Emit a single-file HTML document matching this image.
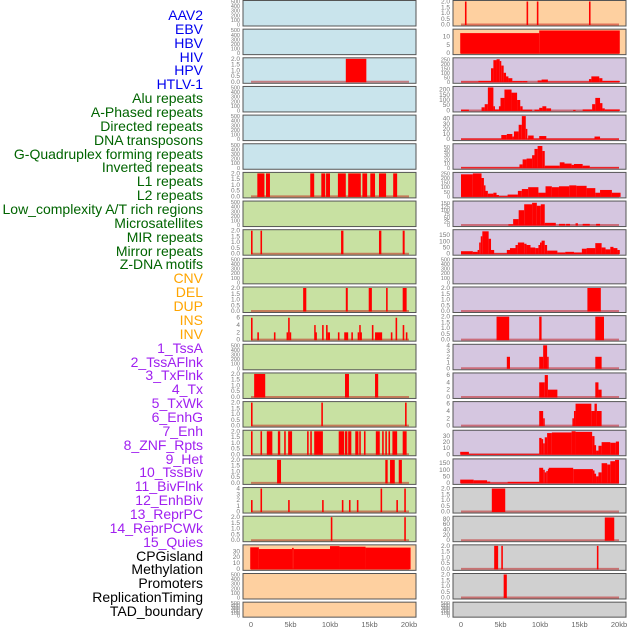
<!DOCTYPE html>
<html><head><meta charset="utf-8"><style>
body{margin:0;background:#fff;width:630px;height:630px;overflow:hidden}
.lab{position:absolute;right:427px;font-family:"Liberation Sans",sans-serif;font-size:14px;line-height:14px;white-space:nowrap}
</style></head><body>
<div id="labels"></div>
<svg id="chart" width="630" height="630" style="position:absolute;left:0;top:0"></svg>
<script>
const labelNames = ["AAV2","EBV","HBV","HIV","HPV","HTLV-1","Alu repeats","A-Phased repeats","Directed repeats","DNA transposons","G-Quadruplex forming repeats","Inverted repeats","L1 repeats","L2 repeats","Low_complexity A/T rich regions","Microsatellites","MIR repeats","Mirror repeats","Z-DNA motifs","CNV","DEL","DUP","INS","INV","1_TssA","2_TssAFlnk","3_TxFlnk","4_Tx","5_TxWk","6_EnhG","7_Enh","8_ZNF_Rpts","9_Het","10_TssBiv","11_BivFlnk","12_EnhBiv","13_ReprPC","14_ReprPCWk","15_Quies","CPGisland","Methylation","Promoters","ReplicationTiming","TAD_boundary"];
const labelColors = ["#0000ee","#0000ee","#0000ee","#0000ee","#0000ee","#0000ee","#006400","#006400","#006400","#006400","#006400","#006400","#006400","#006400","#006400","#006400","#006400","#006400","#006400","#ffa500","#ffa500","#ffa500","#ffa500","#ffa500","#a020f0","#a020f0","#a020f0","#a020f0","#a020f0","#a020f0","#a020f0","#a020f0","#a020f0","#a020f0","#a020f0","#a020f0","#a020f0","#a020f0","#a020f0","#000","#000","#000","#000","#000"];
const xTicks = [0,5,10,15,20];
const xTickLabels = ["0","5kb","10kb","15kb","20kb"];

// left column segments [startKb, endKb, value]
const L2 = [[12.0,14.6,2]];
const L6 = [[0.8,1.7,2],[1.9,2.4,2],[7.5,8.0,2],[8.9,9.4,2],[9.5,10.0,2],[11.0,12.0,2],[12.3,13.9,2],[14.1,14.7,2],[15.1,15.7,2],[16.2,17.1,2],[18.0,18.5,2]];
const L8 = [[0,0.2,2],[1.2,1.4,2],[11.4,11.7,2],[16.2,16.5,2],[19.2,19.45,2]];
const L10 = [[6.6,7.0,2],[12.0,12.25,2],[14.9,15.3,2],[17.1,17.3,2],[19.2,19.7,2]];
const L11 = [[0,0.2,6],[0.8,1.0,2],[2.9,3.1,2],[4.5,4.7,2],[4.7,4.9,6],[4.9,5.0,2],[8.0,8.15,4],[8.15,8.3,2],[9.0,9.2,4],[9.5,9.7,4],[9.7,10.0,2],[11.0,11.2,2],[11.8,12.3,2],[12.7,12.9,2],[13.5,13.7,2],[13.7,13.85,4],[13.85,14.0,2],[15.3,15.5,4],[15.7,16.6,2],[17.7,17.9,2],[18.3,18.5,6],[19.2,19.4,4],[19.6,19.8,2]];
const L13 = [[0.4,1.8,2],[11.9,12.4,2],[15.7,16.1,2]];
const L14 = [[0,0.2,2],[8.9,9.1,2],[19.5,19.7,2]];
const L15 = [[0,0.2,2],[1.2,1.4,2],[2.0,2.7,2],[3.4,3.7,2],[4.2,4.4,2],[4.7,5.2,2],[7.1,7.3,2],[7.5,7.7,2],[8.0,9.1,2],[11.1,11.8,2],[11.9,12.2,2],[12.3,12.7,2],[13.2,13.6,2],[13.7,13.9,2],[14.3,14.5,2],[15.8,16.3,2],[16.6,16.8,2],[17.0,17.2,2],[17.4,17.6,2],[17.9,18.5,2],[19.2,19.7,2]];
const L16 = [[3.3,3.8,2],[17.0,17.3,2],[17.6,18.2,2],[18.7,19.1,2]];
const L17 = [[0,0.2,2],[1.2,1.4,4],[4.7,4.9,2],[9.0,9.2,2],[11.5,11.7,2],[12.4,12.6,2],[13.4,13.6,2],[16.4,16.6,4],[18.4,18.6,2],[19.4,19.6,4]];
const L18 = [[10.1,10.3,2],[19.4,19.6,2]];
const L19 = [[-0.1,1.0,37],[1.0,5.2,34],[5.2,5.4,36],[5.4,10.0,34],[10.0,11.2,39],[11.2,14.5,38],[14.5,20.2,36.5]];

// right column segments
const R0 = [[0.5,0.7,2],[8.3,8.5,2],[9.6,9.8,2],[16.2,16.4,2]];
const R1 = [[-0.1,9.9,12.2],[9.9,20.1,13.8]];
const R2 = [[0,2.2,2],[2.2,3.8,10],[3.8,4.1,150],[4.1,4.5,240],[4.5,4.9,250],[4.9,5.1,230],[5.1,5.4,180],[5.4,5.7,100],[5.7,6.0,60],[6.0,6.5,40],[6.5,7.8,8],[7.8,8.4,8],[9.7,10.2,15],[10.2,11.0,25],[11.0,16.2,3],[16.2,16.5,30],[16.5,17.5,60],[17.5,17.9,40],[17.9,20.1,10]];
const R3 = [[0,1.0,8],[2.6,3.0,30],[3.0,3.4,60],[3.4,4.1,220],[4.1,4.3,40],[4.3,4.8,10],[4.8,5.0,40],[5.0,5.5,120],[5.5,6.4,200],[6.4,7.1,170],[7.1,7.5,100],[7.5,7.8,40],[7.8,9.0,8],[9.3,9.9,8],[9.9,10.3,25],[10.3,10.8,40],[10.8,11.4,20],[14.2,14.5,5],[15.4,16.6,10],[16.6,17.0,60],[17.0,17.6,120],[17.6,17.9,70],[17.9,18.2,20],[18.2,20.1,10]];
const R4 = [[0,5.1,1],[5.1,5.8,8],[5.8,6.5,10],[6.5,6.7,5],[6.7,7.3,15],[7.3,7.7,28],[7.7,8.2,45],[8.2,8.4,20],[8.4,8.5,1],[8.5,9.2,7],[9.2,9.9,1],[9.9,10.8,6],[10.8,16.9,1],[16.9,17.6,5],[17.6,20.0,1]];
const R5 = [[0,7.4,1],[7.4,7.8,8],[7.8,8.3,20],[8.3,9.0,22],[9.0,9.3,30],[9.3,9.7,45],[9.7,10.3,52],[10.3,10.6,40],[10.6,12.5,5],[12.5,13.1,13],[13.1,14.0,10],[14.0,14.3,7],[14.3,15.4,9],[15.4,16.3,5],[16.3,20.0,1]];
const R6 = [[0,1.5,240],[1.5,2.6,250],[2.6,2.9,200],[2.9,3.1,120],[3.1,3.4,60],[3.4,4.1,30],[4.1,4.5,40],[4.5,4.8,15],[4.8,5.9,3],[5.9,7.2,20],[7.2,7.7,60],[7.7,8.5,80],[8.5,9.8,100],[9.8,10.7,40],[10.7,11.5,110],[11.5,12.4,100],[12.4,13.7,110],[13.7,14.6,120],[14.6,15.9,115],[15.9,17.0,90],[17.0,17.6,40],[17.6,19.1,70],[19.1,20.2,40]];
const R7 = [[6.0,6.6,5],[6.6,7.3,40],[7.3,8.0,100],[8.0,9.0,140],[9.0,9.6,150],[9.6,10.1,130],[10.1,10.6,140],[10.6,12.0,15],[12.4,13.2,8],[13.3,13.8,8],[14.5,14.8,12],[15.4,16.3,8],[17.1,17.6,8]];
const R8 = [[0,1.5,20],[1.5,2.1,15],[2.1,2.3,30],[2.3,2.5,90],[2.5,2.7,140],[2.7,3.5,180],[3.5,3.8,120],[3.8,4.2,30],[4.2,5.8,3],[5.8,6.2,30],[6.2,6.9,45],[6.9,7.2,70],[7.2,8.0,90],[8.0,8.3,80],[8.3,8.8,70],[8.8,9.4,50],[9.4,9.8,45],[9.8,10.0,70],[10.0,10.2,90],[10.2,10.6,105],[10.6,10.9,70],[10.9,12.2,25],[12.2,13.2,10],[13.2,14.3,15],[14.3,15.3,10],[15.3,15.9,40],[15.9,17.0,45],[17.0,17.8,85],[17.8,18.3,50],[18.3,18.9,35],[18.9,19.3,55],[19.3,19.8,45],[19.8,20.1,30]];
const R10 = [[16.0,17.7,2]];
const R11 = [[4.5,6.1,2],[9.9,10.2,2],[17.0,18.1,2]];
const R12 = [[5.8,6.2,2],[9.9,10.4,2],[10.4,10.9,4],[10.9,11.1,2],[17.0,17.8,2]];
const R13 = [[9.9,10.6,4],[10.6,11.0,6],[11.0,12.2,2],[17.0,17.4,4],[17.4,17.8,2]];
const R14 = [[9.9,10.4,4],[10.4,10.6,2],[14.1,14.3,2],[14.3,14.5,4],[14.5,16.5,6],[16.5,16.9,4],[16.9,17.2,6],[17.2,17.8,4]];
const R15 = [[-0.1,1.0,4],[1.0,9.9,0.5],[9.9,10.2,27],[10.2,10.4,25],[10.4,10.6,18],[10.6,10.9,28],[10.9,11.5,35],[11.5,14.0,36],[14.0,14.5,38],[14.5,16.6,37],[16.6,16.9,30],[16.9,17.1,15],[17.1,17.4,6],[17.4,17.8,14],[17.8,18.9,20],[18.9,19.6,19],[19.6,20.0,21]];
const R16 = [[-0.1,1.6,25],[1.6,3.3,20],[3.3,3.7,10],[3.7,5.9,2],[5.9,9.9,8],[9.9,10.4,115],[10.4,10.6,100],[10.6,10.8,80],[10.8,11.0,90],[11.0,11.1,105],[11.1,14.2,115],[14.2,16.7,105],[16.7,16.9,95],[16.9,17.1,70],[17.1,17.4,50],[17.4,17.8,80],[17.8,18.5,150],[18.5,18.9,140],[18.9,19.5,165],[19.5,20.0,175]];
const R17 = [[3.9,5.6,2]];
const R18 = [[18.2,19.4,85]];
const R19 = [[4.2,4.7,2],[5.1,5.3,2],[17.2,17.4,2]];
const R20 = [[5.4,5.8,2]];

const EMPTY = [0,100,200,300,400,500], T2=[0,0.5,1,1.5,2];
const BLUE="#c9e4ec", ORA="#fed0a0", GRN="#c8e1a2", PUR="#d5c6e0", GRY="#d0d0d0";
const leftPanels = [
 [BLUE,500,EMPTY,null],[BLUE,500,EMPTY,null],[BLUE,2,T2,L2],[BLUE,500,EMPTY,null],[BLUE,500,EMPTY,null],[BLUE,500,EMPTY,null],
 [GRN,2,T2,L6],[GRN,500,EMPTY,null],[GRN,2,T2,L8],[GRN,500,EMPTY,null],[GRN,2,T2,L10],[GRN,6.3,[0,2,4,6],L11],[GRN,500,EMPTY,null],
 [GRN,2,T2,L13],[GRN,2,T2,L14],[GRN,2,T2,L15],[GRN,2,T2,L16],[GRN,4,[0,1,2,3,4],L17],[GRN,2,T2,L18],
 [ORA,39.5,[0,10,20,30],L19],[ORA,500,EMPTY,null],[ORA,500,EMPTY,null]];
const rightPanels = [
 [ORA,2,T2,R0],[ORA,14,[0,5,10],R1],[PUR,255,[0,50,100,150,200,250],R2],[PUR,220,[0,50,100,150,200],R3],[PUR,45,[0,10,20,30,40],R4],[PUR,55,[0,10,20,30,40,50],R5],
 [PUR,250,[0,50,100,150,200,250],R6],[PUR,155,[0,25,50,75,100,125,150],R7],[PUR,185,[0,50,100,150],R8],[PUR,500,EMPTY,null],[PUR,2,T2,R10],[PUR,2,T2,R11],[PUR,4,[0,1,2,3,4],R12],
 [PUR,6.3,[0,2,4,6],R13],[PUR,6.3,[0,2,4,6],R14],[PUR,38,[0,10,20,30],R15],[PUR,175,[0,50,100,150],R16],
 [GRY,2,T2,R17],[GRY,86,[0,20,40,60,80],R18],[GRY,2,T2,R19],[GRY,2,T2,R20],[GRY,500,EMPTY,null]];

const NS="http://www.w3.org/2000/svg";
const svg=document.getElementById('chart');
function mk(tag,attrs,parent){const e=document.createElementNS(NS,tag);for(const k in attrs)e.setAttribute(k,attrs[k]);(parent||svg).appendChild(e);return e;}

// labels
const labDiv=document.getElementById('labels');
labelNames.forEach((n,i)=>{
 const d=document.createElement('div');
 d.className='lab';
 
 
 d.style.top=(8+i*13.86)+'px';
 d.style.color=labelColors[i];
 d.textContent=n;
 labDiv.appendChild(d);
});

const KB=7.9;
function drawColumn(panels,left,x0,side){
 panels.forEach((p,i)=>{
  const [bg,ymax,ticks,segs]=p;
  const top=i*28.65+0.5, h=(i===21)?15:25.5;
  const g=mk('g',{});
  
  
  mk('rect',{x:left,y:top,width:173,height:h,fill:bg},g);
  const y0=top+h-1.5, yh=h-2.5;
  const ys=v=>y0-(v/ymax)*yh;
  const xs=k=>x0+k*KB;
  if(segs){
   mk('line',{x1:xs(0),x2:xs(20),y1:y0,y2:y0,stroke:'rgba(190,0,0,0.45)','stroke-width':2},g);
   segs.forEach(s=>{
    const w=Math.max(xs(s[1])-xs(s[0]),1.5);
    const r=mk('rect',{x:xs(s[0]),y:ys(s[2]),width:w,height:y0-ys(s[2])+0.5,fill:'#ff0000'},g);
    
    
   });
  }
  mk('rect',{x:left,y:top,width:173,height:h,fill:'none',stroke:'#555','stroke-width':1},g);
  const fs=(ticks.length>5||i===21)?5.5:6.5;
  ticks.forEach(t=>{
   const tx=mk('text',{x:left-3,y:ys(t)+2,'text-anchor':'end','font-size':fs,fill:'#777','font-family':'Liberation Sans, sans-serif'},g);
   
   
   tx.textContent=(ymax===2)?t.toFixed(1):String(t);
  });
 });
 xTicks.forEach((t,j)=>{
  const tx=mk('text',{x:x0+t*KB,y:627,'text-anchor':'middle','font-size':7.5,fill:'#666','font-family':'Liberation Sans, sans-serif'});
  
  
  tx.textContent=xTickLabels[j];
 });
}
drawColumn(leftPanels,243,251,'left');
drawColumn(rightPanels,453,461,'right');
</script>
</body></html>
